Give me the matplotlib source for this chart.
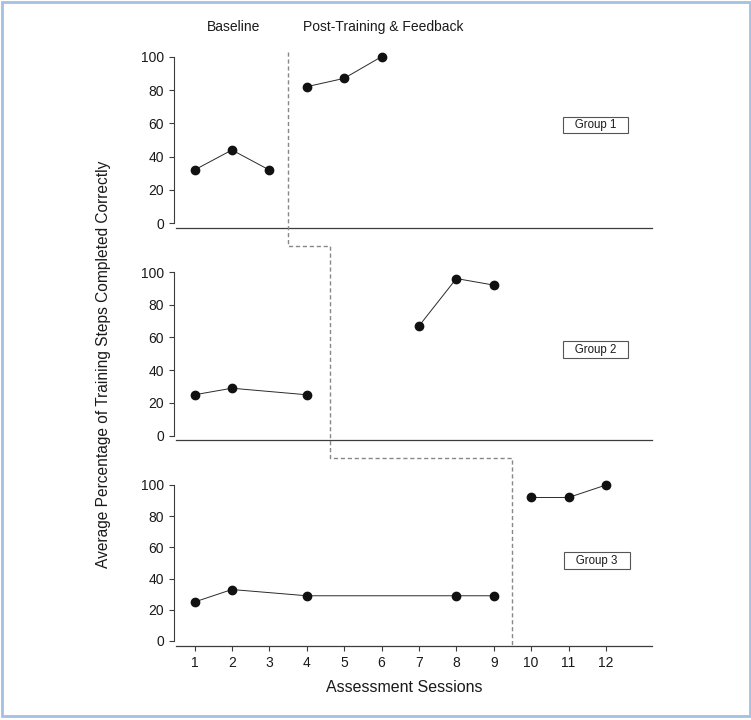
import matplotlib
matplotlib.use("Agg")
import matplotlib.pyplot as plt
from matplotlib.lines import Line2D
from matplotlib.patches import Rectangle

plt.rcParams['font.family'] = ['Liberation Sans', 'DejaVu Sans']

# datos
sessions = list(range(1, 13))
y_ticks = [0, 20, 40, 60, 80, 100]

g1_base_x = [1, 2, 3]
g1_base_y = [32, 44, 32]
g1_post_x = [4, 5, 6]
g1_post_y = [82, 87, 100]

g2_base_x = [1, 2, 4]
g2_base_y = [25, 29, 25]
g2_post_x = [7, 8, 9]
g2_post_y = [67, 96, 92]

g3_base_x = [1, 2, 4, 8, 9]
g3_base_y = [25, 33, 29, 29, 29]
g3_post_x = [10, 11, 12]
g3_post_y = [92, 92, 100]

group_names = ['Group 1', 'Group 2', 'Group 3']
group_label_pos = [(11.72, 59), (11.72, 52.5), (11.76, 51.5)]
phase_change = [3.5, 4.62, 9.5]
phase_names = ['Baseline', 'Post-Training & Feedback']
phase_name_x = [2.05, 6.05]

W, H = 751, 720
fig = plt.figure(figsize=(W / 100, H / 100), dpi=100)

# ejes en pixeles: (y de 0, y de 100, y de la linea base)
panel_px = [(223.3, 56.7, 227.7), (435.7, 272.0, 440.0), (641.0, 485.0, 646.0)]
left_px, right_px = 176, 651.7
x1_px, x12_px = 194.5, 606.0
sx = (x12_px - x1_px) / 11
xlim = (1 - (x1_px - left_px) / sx, 12 + (right_px - x12_px) / sx)

series = [
    (g1_base_x, g1_base_y, g1_post_x, g1_post_y),
    (g2_base_x, g2_base_y, g2_post_x, g2_post_y),
    (g3_base_x, g3_base_y, g3_post_x, g3_post_y),
]

spine_col = '#3c3c3c'
axes = []
for i, (y0, y100, yb) in enumerate(panel_px):
    sy = (y0 - y100) / 100
    ybot = -(yb - y0) / sy
    ytop = 104
    top_px = y100 - 4 * sy
    ax = fig.add_axes([left_px / W, 1 - yb / H, (right_px - left_px) / W, (yb - top_px) / H])
    ax.set_xlim(*xlim)
    ax.set_ylim(ybot, ytop)
    for s in ['top', 'right']:
        ax.spines[s].set_visible(False)
    ax.spines['left'].set_bounds(0, 100)
    ax.spines['left'].set_position(('outward', 1.5))
    ax.spines['left'].set_color(spine_col)
    ax.spines['left'].set_linewidth(0.8)
    ax.spines['bottom'].set_color(spine_col)
    ax.spines['bottom'].set_linewidth(0.9)
    ax.set_yticks(y_ticks)
    ax.tick_params(axis='y', length=3.5, width=0.8, color=spine_col, pad=3.5,
                   labelsize=10, labelcolor='#1a1a1a')
    ax.set_xticks(sessions)
    if i < 2:
        ax.tick_params(axis='x', length=0, labelbottom=False)
    else:
        ax.tick_params(axis='x', length=3.5, width=0.8, color=spine_col, pad=4,
                       labelsize=10, labelcolor='#1a1a1a')
    bx, by, px, py = series[i]
    ax.plot(bx, by, color='#2a2a2a', lw=0.7, marker='o', ms=6, mfc='#111111', mec='#111111')
    ax.plot(px, py, color='#2a2a2a', lw=0.7, marker='o', ms=6, mfc='#111111', mec='#111111')
    gx, gy = group_label_pos[i]
    ax.text(gx, gy, '   ' + group_names[i] + '   ', ha='center', va='center', fontsize=8.3,
            color='#1a1a1a',
            bbox=dict(boxstyle='square,pad=0.2', fc='white', ec='#555555', lw=0.8))
    axes.append(ax)

# etiquetas de fase
for name, nx in zip(phase_names, phase_name_x):
    axes[0].text(nx, 118, name, ha='center', va='center', fontsize=10, color='#1a1a1a',
                 clip_on=False)

# linea de cambio de fase (escalonada)
gap_px = 18
inv = fig.transFigure.inverted()
xs, ys = [], []
for i, (ax, xc) in enumerate(zip(axes, phase_change)):
    if i == 0:
        top = ax.transData.transform((xc, 103))
        xs.append(top[0]); ys.append(top[1])
    else:
        xs.append(ax.transData.transform((xc, 0))[0]); ys.append(ys[-1])
    bottom_y = ax.transAxes.transform((0, 0))[1]
    if i < len(axes) - 1:
        bottom_y -= gap_px
    else:
        bottom_y += 1
    xs.append(xs[-1]); ys.append(bottom_y)
pts = inv.transform(list(zip(xs, ys)))
fig.add_artist(Line2D(pts[:, 0], pts[:, 1], transform=fig.transFigure, color='#888888',
                      lw=1.0, ls=(0, (3, 2))))

# titulos de ejes
fig.text(404 / W, 1 - 688 / H, 'Assessment Sessions', ha='center', va='center',
         fontsize=11.5, color='#1a1a1a')
fig.text(104 / W, 1 - 364 / H, 'Average Percentage of Training Steps Completed Correctly',
         ha='center', va='center', rotation=90, fontsize=11.2, color='#1a1a1a')

# marco
fig.add_artist(Rectangle((1.5 / W, 4 / H), (W - 3) / W, (H - 5.5) / H, transform=fig.transFigure,
                         fill=False, ec='#a6c0e0', lw=2))

fig.savefig('out.png', dpi=100)
